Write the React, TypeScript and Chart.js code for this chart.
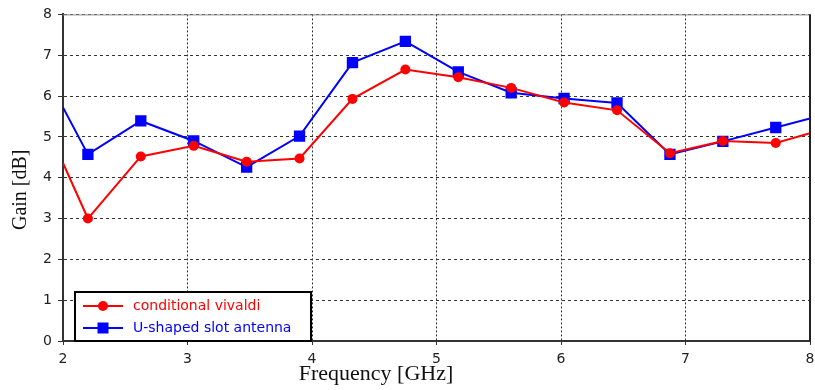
import React, { useEffect, useRef } from "react";
import { Chart, registerables } from "chart.js";

Chart.register(...registerables);

const frequencies = [2.0, 2.2, 2.625, 3.05, 3.475, 3.9, 4.325, 4.75, 5.175, 5.6, 6.025, 6.45, 6.875, 7.3, 7.725, 8.0];
const vivaldiGain = [4.36, 3.0, 4.52, 4.78, 4.39, 4.47, 5.93, 6.65, 6.46, 6.2, 5.84, 5.65, 4.6, 4.9, 4.85, 5.09];
const slotGain = [5.72, 4.57, 5.39, 4.9, 4.26, 5.02, 6.82, 7.34, 6.59, 6.08, 5.94, 5.83, 4.57, 4.89, 5.23, 5.45];
const xTicks = [2, 3, 4, 5, 6, 7, 8];
const yTicks = [0, 1, 2, 3, 4, 5, 6, 7, 8];

const seriesNames = ["conditional vivaldi", "U-shaped slot antenna"];
const xTitle = "Frequency [GHz]";
const yTitle = "Gain [dB]";

export default function App() {
  const ref = useRef<HTMLCanvasElement | null>(null);

  useEffect(() => {
    if (!ref.current) return;
    const mr = frequencies.map((_, i) => (i === 0 || i === frequencies.length - 1 ? 0 : 1));

    const decorPlugin = {
      id: "decor",
      afterDraw(chart: any) {
        const ctx = chart.ctx as CanvasRenderingContext2D;
        const a = chart.chartArea;
        ctx.save();
        // top border
        ctx.strokeStyle = "#8a8a8a";
        ctx.lineWidth = 1;
        ctx.beginPath();
        ctx.moveTo(a.left, a.top + 0.5);
        ctx.lineTo(a.right, a.top + 0.5);
        ctx.stroke();
        // right border
        ctx.strokeStyle = "#222";
        ctx.lineWidth = 2;
        ctx.beginPath();
        ctx.moveTo(a.right, a.top);
        ctx.lineTo(a.right, a.bottom);
        ctx.stroke();

        // axis titles
        ctx.fillStyle = "#111";
        ctx.font = "22px 'Liberation Serif', 'Times New Roman', serif";
        ctx.textAlign = "center";
        ctx.textBaseline = "middle";
        ctx.fillText(xTitle, a.left + (a.right - a.left) * 0.419, a.bottom + 33);
        ctx.save();
        ctx.translate(21, a.top + (a.bottom - a.top) * 0.537);
        ctx.rotate(-Math.PI / 2);
        ctx.font = "20px 'Liberation Serif', 'Times New Roman', serif";
        ctx.fillText(yTitle, 0, 0);
        ctx.restore();

        // legend
        const lx = a.left + 12;
        const lw = 236;
        const lh = 49;
        const ly = a.bottom - lh;
        ctx.fillStyle = "#fff";
        ctx.fillRect(lx, ly, lw, lh);
        ctx.strokeStyle = "#000";
        ctx.lineWidth = 2;
        ctx.strokeRect(lx, ly, lw, lh);
        ctx.font = "14px 'DejaVu Sans', Verdana, sans-serif";
        ctx.textAlign = "left";
        ctx.textBaseline = "middle";
        chart.data.datasets.forEach((ds: any, i: number) => {
          const y = ly + 14 + i * 22;
          const x0 = lx + 8;
          ctx.strokeStyle = ds.borderColor;
          ctx.lineWidth = 2;
          ctx.beginPath();
          ctx.moveTo(x0, y);
          ctx.lineTo(x0 + 40, y);
          ctx.stroke();
          ctx.fillStyle = ds.borderColor;
          if (ds.pointStyle === "rect") {
            ctx.fillRect(x0 + 20 - 5.5, y - 5.5, 11, 11);
          } else {
            ctx.beginPath();
            ctx.arc(x0 + 20, y, 5, 0, Math.PI * 2);
            ctx.fill();
          }
          ctx.fillText(ds.label, x0 + 50, y);
        });
        ctx.restore();
      },
    };

    const chart = new Chart(ref.current, {
      type: "line",
      data: {
        datasets: [
          {
            label: seriesNames[0],
            data: frequencies.map((f, i) => ({ x: f, y: vivaldiGain[i] })),
            borderColor: "#ff0000",
            backgroundColor: "#ff0000",
            borderWidth: 2,
            pointStyle: "circle",
            pointRadius: mr.map((v) => v * 5),
            pointBorderWidth: 0,
            tension: 0,
          },
          {
            label: seriesNames[1],
            data: frequencies.map((f, i) => ({ x: f, y: slotGain[i] })),
            borderColor: "#0000ff",
            backgroundColor: "#0000ff",
            borderWidth: 2,
            pointStyle: "rect",
            pointRadius: mr.map((v) => v * 8),
            pointBorderWidth: 0,
            tension: 0,
          },
        ],
      },
      options: {
        animation: false,
        responsive: false,
        maintainAspectRatio: false,
        layout: { padding: { left: 0, right: 0, top: 12, bottom: 0 } },
        plugins: { legend: { display: false }, tooltip: { enabled: false } },
        scales: {
          x: {
            type: "linear",
            min: 2,
            max: 8,
            afterBuildTicks: (s: any) => {
              s.ticks = xTicks.map((v) => ({ value: v }));
            },
            afterFit: (s: any) => {
              s.height = 49;
              s.paddingRight = 5;
            },
            ticks: {
              color: "#222",
              padding: 6,
              font: { family: "'DejaVu Sans', Verdana, sans-serif", size: 14 },
            },
            grid: {
              color: "#333",
              lineWidth: 1,
              tickLength: 4,
              tickColor: "#333",
              tickBorderDash: [],
            } as any,
            border: { display: true, color: "#333", width: 2, dash: [2, 2] } as any,
          },
          y: {
            type: "linear",
            min: 0,
            max: 8,
            afterBuildTicks: (s: any) => {
              s.ticks = yTicks.map((v) => ({ value: v }));
            },
            afterFit: (s: any) => {
              s.width = 63;
            },
            ticks: {
              color: "#222",
              padding: 6,
              font: { family: "'DejaVu Sans', Verdana, sans-serif", size: 14 },
            },
            grid: {
              color: "#333",
              lineWidth: 1,
              tickLength: 5,
              tickColor: "#333",
              tickBorderDash: [],
            } as any,
            border: { display: true, color: "#333", width: 2, dash: [3, 3] } as any,
          },
        },
      } as any,
      plugins: [decorPlugin],
    });
    return () => chart.destroy();
  }, []);

  return (
    <div style={{ position: "absolute", left: 0, top: 0, width: 815, height: 390, background: "#fff" }}>
      <canvas ref={ref} width={815} height={390} style={{ width: 815, height: 390 }} />
    </div>
  );
}
